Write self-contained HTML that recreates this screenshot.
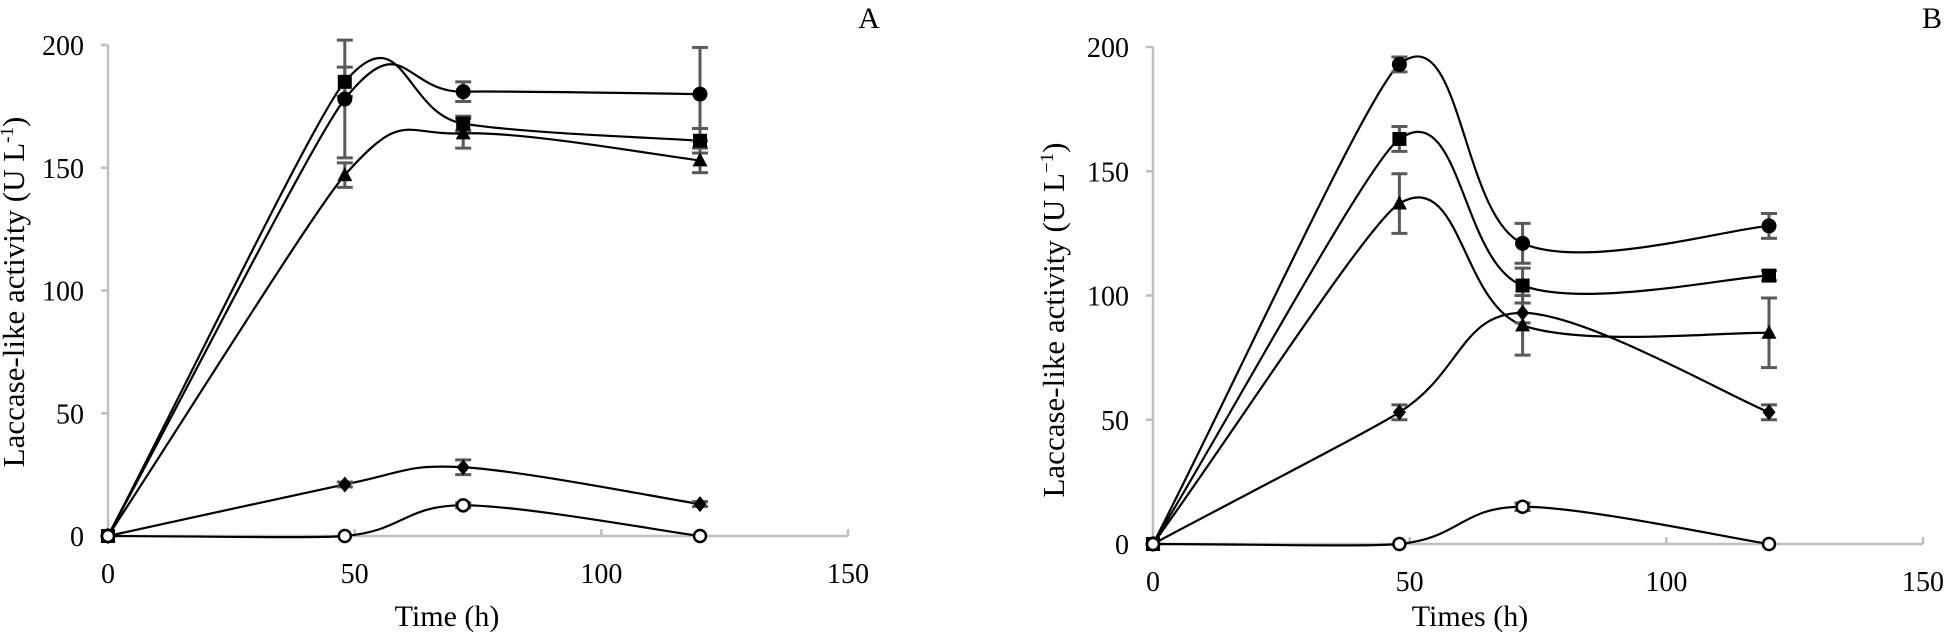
<!DOCTYPE html>
<html><head><meta charset="utf-8"><style>
html,body{margin:0;padding:0;background:#fff;}
svg{display:block;font-family:"Liberation Serif",serif;}
</style></head><body>
<svg id="s" width="1946" height="632" xmlns="http://www.w3.org/2000/svg"></svg>
<script>
const s=document.getElementById('s');let h='';
function panel(P){
 const X=v=>P.x0+v*(P.x150-P.x0)/150, Y=v=>P.y0-v*(P.y0-P.y200)/200;
 h+=`<line x1="${P.x0}" y1="${P.y200}" x2="${P.x0}" y2="${P.y0}" stroke="#bfbfbf" stroke-width="2.5"/>`;
 h+=`<line x1="${P.x0}" y1="${P.y0}" x2="${P.x150}" y2="${P.y0}" stroke="#bfbfbf" stroke-width="2.5"/>`;
 for(let v=0;v<=200;v+=50){h+=`<line x1="${P.x0-7}" y1="${Y(v)}" x2="${P.x0}" y2="${Y(v)}" stroke="#bfbfbf" stroke-width="2.5"/>`;
  h+=`<text x="${P.x0-24}" y="${Y(v)+10}" font-size="28" text-anchor="end">${v}</text>`;}
 for(let v=0;v<=150;v+=50){if(v)h+=`<line x1="${X(v)}" y1="${P.y0-7}" x2="${X(v)}" y2="${P.y0}" stroke="#bfbfbf" stroke-width="2.5"/>`;
  h+=`<text x="${X(v)}" y="${P.y0+47}" font-size="28" text-anchor="middle">${v}</text>`;}
 h+=`<text x="${P.tx}" y="626" font-size="30" text-anchor="middle">${P.xt}</text>`;
 h+=`<text transform="translate(${P.yx},${P.yc}) rotate(-90)" font-size="31" text-anchor="middle">${P.yt}</text>`;
 h+=`<text x="${P.lx}" y="28" font-size="30" text-anchor="middle">${P.lab}</text>`;
 const t=[0,48,72,120];
 P.series.forEach(sr=>{
  const pts=t.map((tt,i)=>[X(tt),Y(sr.v[i])]);
  let d=`M${pts[0][0]},${pts[0][1]}`;
  for(let i=0;i<3;i++){const p0=pts[Math.max(i-1,0)],p1=pts[i],p2=pts[i+1],p3=pts[Math.min(i+2,3)];
   let c1x=p1[0]+(p2[0]-p0[0])/6,c1y=p1[1]+(p2[1]-p0[1])/6;
   let c2x=p2[0]-(p3[0]-p1[0])/6,c2y=p2[1]-(p3[1]-p1[1])/6;
   if(i==0){c1x=p1[0]+(p2[0]-p1[0])/3;c1y=p1[1]+(p2[1]-p1[1])/3;c2x=p2[0]-(p3[0]-p1[0])/12;c2y=p2[1]-(p3[1]-p1[1])/12;}
   d+=` C${c1x},${c1y} ${c2x},${c2y} ${p2[0]},${p2[1]}`;}
  h+=`<path d="${d}" fill="none" stroke="#000" stroke-width="2.2"/>`;
 });
 P.series.forEach(sr=>{
  t.forEach((tt,i)=>{const e=sr.e[i];if(!e)return;const x=X(tt);
   h+=`<g stroke="#595959" stroke-width="3"><line x1="${x}" y1="${Y(sr.v[i]-e)}" x2="${x}" y2="${Y(sr.v[i]+e)}"/><line x1="${x-8}" y1="${Y(sr.v[i]-e)}" x2="${x+8}" y2="${Y(sr.v[i]-e)}"/><line x1="${x-8}" y1="${Y(sr.v[i]+e)}" x2="${x+8}" y2="${Y(sr.v[i]+e)}"/></g>`;});
 });
 P.series.forEach(sr=>{
  t.forEach((tt,i)=>{const x=X(tt),y=Y(sr.v[i]);
   if(sr.m=='c')h+=`<circle cx="${x}" cy="${y}" r="7.5" fill="#000"/>`;
   if(sr.m=='s')h+=`<rect x="${x-7}" y="${y-7}" width="14" height="14" fill="#000"/>`;
   if(sr.m=='t')h+=`<polygon points="${x},${y-8} ${x+7.5},${y+6} ${x-7.5},${y+6}" fill="#000"/>`;
   if(sr.m=='d')h+=`<polygon points="${x},${y-8} ${x+6.5},${y} ${x},${y+8} ${x-6.5},${y}" fill="#000"/>`;
   if(sr.m=='o')h+=`<circle cx="${x}" cy="${y}" r="6" fill="#fff" stroke="#000" stroke-width="2.5"/>`;
  });
 });
}
panel({x0:108,x150:848,y0:536,y200:45,tx:447,xt:'Time (h)',yx:24,yc:292,yt:'Laccase-like activity  (U L<tspan font-size="19" dy="-11">-1</tspan><tspan dy="11">)</tspan>',lx:869,lab:'A',
 series:[
 {m:'c',v:[0,178,181,180],e:[0,24,4,19]},
 {m:'s',v:[0,185,168,161],e:[0,6,3,5]},
 {m:'t',v:[0,147,164,153],e:[0,5,6,5]},
 {m:'d',v:[0,21,28,13],e:[0,1,3,1]},
 {m:'o',v:[0,0,12.5,0],e:[0,0,1,0]}]});
panel({x0:1153,x150:1923,y0:544,y200:47,tx:1470,xt:'Times (h)',yx:1064,yc:320,yt:'Laccase-like activity (U L<tspan font-size="19" dy="-11">−1</tspan><tspan dy="11">)</tspan>',lx:1932,lab:'B',
 series:[
 {m:'c',v:[0,193,121,128],e:[0,3,8,5]},
 {m:'s',v:[0,163,104,108],e:[0,5,7,2]},
 {m:'t',v:[0,137,88,85],e:[0,12,12,14]},
 {m:'d',v:[0,53,93,53],e:[0,3,4,3]},
 {m:'o',v:[0,0,15,0],e:[0,0,1.5,0]}]});
s.innerHTML=h;
</script>
</body></html>
